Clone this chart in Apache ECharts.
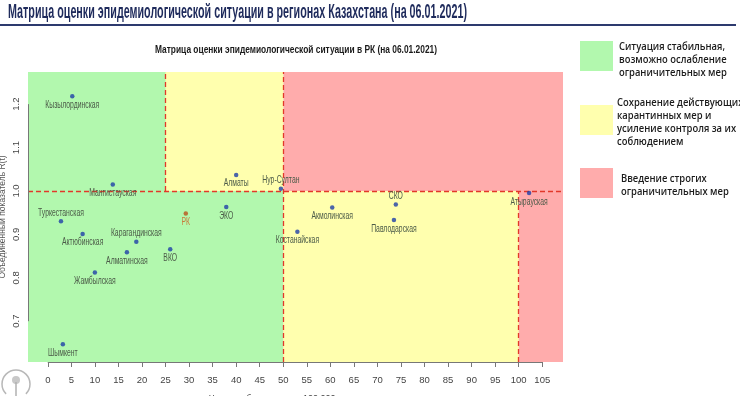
<!DOCTYPE html>
<html><head><meta charset="utf-8">
<script src="https://cdn.jsdelivr.net/npm/echarts@6/dist/echarts.min.js"></script>
<style>html,body{margin:0;padding:0;background:#fff}#c{width:740px;height:396px}</style>
</head><body><div id="c"></div>
<script>
// ---- data ----
const regions = ['Кызылординская','Мангистауская','Алматы','Нур-Султан','Туркестанская','ЭКО','РК','Актюбинская','Карагандинская','Алматинская','ВКО','Жамбылская','Шымкент','Костанайская','Акмолинская','СКО','Павлодарская','Атырауская'];
const incidence = [5.2, 13.8, 40.0, 49.5, 2.8, 37.9, 29.3, 7.4, 18.8, 16.8, 26.0, 10.0, 3.2, 53.0, 60.4, 73.9, 73.5, 102.2];
const rtIndex = [1.218, 1.015, 1.037, 1.005, 0.930, 0.963, 0.948, 0.901, 0.883, 0.859, 0.866, 0.812, 0.647, 0.906, 0.962, 0.969, 0.933, 0.995];
const xTicks = [0,5,10,15,20,25,30,35,40,45,50,55,60,65,70,75,80,85,90,95,100,105];
const yTicks = [0.7,0.8,0.9,1.0,1.1,1.2];
const xCuts = [25, 50, 100];
const yCut = 1.0;
const labelsAbove = ['Нур-Султан','Туркестанская','Карагандинская','СКО'];
const legendTexts = [
  'Ситуация стабильная,\nвозможно ослабление\nограничительных мер',
  'Сохранение действующих\nкарантинных мер и\nусиление контроля за их\nсоблюдением',
  'Введение строгих\nограничительных мер'
];
const headerText = 'Матрица оценки эпидемиологической ситуации в регионах Казахстана (на 06.01.2021)';
const chartTitle = 'Матрица оценки эпидемиологической ситуации в РК (на 06.01.2021)';

// ---- helpers ----
const cv = document.createElement('canvas').getContext('2d');
function textW(t, font){ cv.font = font; return cv.measureText(t).width; }
const SANS = "'Liberation Sans',Arial,sans-serif";

// ---- chart ----
const XMIN = -4.2, XMAX = 109.4, YMIN = 0.606, YMAX = 1.274;
const GREEN = '#b2f8ae', YELLOW = '#ffffae', RED = '#ffacac';
const chart = echarts.init(document.getElementById('c'), null, {renderer:'canvas'});

const zone = (x1,y1,x2,y2,c)=>[{coord:[x1,y1],itemStyle:{color:c,opacity:1}},{coord:[x2,y2]}];
const areas = [
  zone(XMIN,YMIN,xCuts[1],YMAX,GREEN),
  zone(xCuts[1],YMIN,XMAX,YMAX,RED),
  zone(xCuts[0],yCut,xCuts[1],YMAX,YELLOW),
  zone(xCuts[1],YMIN,xCuts[2],yCut,YELLOW)
];
const dash = {color:'#e2382a', width:1.3, type:[5,3]};
const lines = [
  [{coord:[XMIN,yCut]},{coord:[XMAX,yCut]}],
  [{coord:[xCuts[0],yCut]},{coord:[xCuts[0],YMAX]}],
  [{coord:[xCuts[1],YMIN]},{coord:[xCuts[1],YMAX]}],
  [{coord:[xCuts[2],YMIN]},{coord:[xCuts[2],yCut]}]
].map(l=>{l[0].lineStyle=dash;return l;});
const axisLines = [
  [{coord:[xTicks[0],YMIN]},{coord:[xTicks[xTicks.length-1],YMIN]}],
  [{coord:[XMIN,yTicks[0]]},{coord:[XMIN,yTicks[yTicks.length-1]]}]
].map(l=>{l[0].lineStyle={color:'#777',width:1,type:'solid'};return l;});

const pts = regions.map((n,i)=>({
  name:n, value:[incidence[i], rtIndex[i]],
  itemStyle:{color: n==='РК' ? '#b9521c' : '#1e3ea8'}
}));
const lblFont = "11px "+SANS;
const lblScale = 54 / textW('Кызылординская', lblFont);

const headerFont = "bold 20px "+SANS;
const titleFont = "bold 11px "+SANS;
const legFont = "600 11px 'Open Sans',sans-serif";
const legScale = 106 / textW('Ситуация стабильная,', legFont);

const legendColors = [GREEN, YELLOW, RED];
const legendBoxTop = [41, 105, 168];
const legendTextTop = [40, 96, 172];
const legendTextLeft = [619, 617, 621];
const graphics = [
  {type:'text', x:8, y:2, scaleX: 459/textW(headerText, headerFont), style:{text:headerText, font:headerFont, fill:'#1f2b5c'}},
  {type:'line', shape:{x1:0,y1:25,x2:736,y2:25}, style:{stroke:'#2d3a6e', lineWidth:2}},
  {type:'text', x:296, y:44, scaleX: 282/textW(chartTitle, titleFont), style:{text:chartTitle, font:titleFont, fill:'#1a1a1a', textAlign:'center'}}
];
legendColors.forEach((c,i)=>{
  graphics.push({type:'rect', shape:{x:580,y:legendBoxTop[i],width:33,height:30}, style:{fill:c}});
  graphics.push({type:'text', x:legendTextLeft[i], y:legendTextTop[i], scaleX:legScale, style:{text:legendTexts[i], font:legFont, fill:'#1b1b1b', lineHeight:13}});
});
// logo (decorative)
graphics.push({type:'group', x:0, y:362, children:[
  {type:'arc', shape:{cx:16,cy:22,r:14,startAngle:Math.PI*0.75,endAngle:Math.PI*2.25}, style:{stroke:'#b8b8b8',lineWidth:1.5,fill:null}},
  {type:'circle', shape:{cx:16,cy:18,r:4}, style:{fill:'#c8c8c8'}},
  {type:'line', shape:{x1:16,y1:20,x2:16,y2:34}, style:{stroke:'#b0b0b0',lineWidth:1.5}}
]});

chart.setOption({
  animation:false,
  grid:{left:28, right:177, top:72, bottom:34, containLabel:false, outerBoundsMode:'none'},
  xAxis:{type:'value', min:XMIN, max:XMAX, splitLine:{show:false}, axisLine:{show:false},
    axisTick:{show:true, customValues:xTicks, length:5, lineStyle:{color:'#777'}},
    axisLabel:{customValues:xTicks, margin:13, fontFamily:SANS, fontSize:9.5, color:'#444'},
    name:'Число заболевших на 100 000 населения', nameLocation:'middle', nameGap:32, nameMoveOverlap:false,
    nameTextStyle:{fontFamily:SANS, fontSize:9, color:'#444'}},
  yAxis:{type:'value', min:YMIN, max:YMAX, splitLine:{show:false}, axisLine:{show:false},
    axisTick:{show:true, customValues:yTicks, length:4, lineStyle:{color:'#777'}},
    axisLabel:{customValues:yTicks, rotate:90, margin:7, fontFamily:SANS, fontSize:9.5, color:'#444',
      formatter:v=>v.toFixed(1)},
    name:'Объединенный показатель R(t)', nameLocation:'middle', nameGap:21, nameMoveOverlap:false,
    nameTextStyle:{fontFamily:SANS, fontSize:8.5, color:'#555'}},
  series:[
    {type:'scatter', data:[], silent:true, z:1,
     markArea:{silent:true, data:areas},
     markLine:{silent:true, symbol:'none', label:{show:false}, data:lines.concat(axisLines)}},
    {type:'scatter', z:5, symbolSize:4.5, data:pts},
    {type:'custom', z:6, silent:true, data:pts,
     renderItem:(params, api)=>{
       const p = api.coord([api.value(0), api.value(1)]);
       const n = regions[params.dataIndex];
       const above = labelsAbove.includes(n);
       return {type:'text', x:p[0], y: above ? p[1]-3 : p[1]+3, scaleX:lblScale,
         style:{text:n, font:lblFont, fill: n==='РК' ? '#c87a3c' : '#4b5a48',
                textAlign:'center', textVerticalAlign: above ? 'bottom' : 'top'}};
     }}
  ],
  graphic:graphics
});
</script></body></html>
